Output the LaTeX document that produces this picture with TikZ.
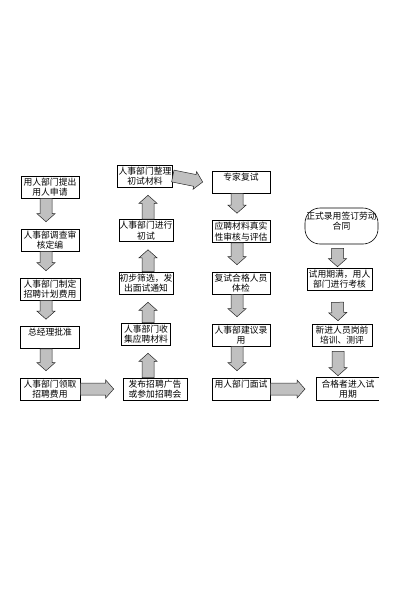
\documentclass[tikz,border=0pt]{standalone}
\usepackage{fontspec}
\newfontfamily\cjk{Noto Sans CJK SC}
\usetikzlibrary{calc}

\definecolor{arrowgray}{RGB}{192,192,192}

\tikzset{
  stepbox/.style={draw, line width=0.6pt, fill=white, align=center, inner sep=0.5pt,
    minimum height=22pt, font=\cjk\fontsize{8.8}{10.5}\selectfont},
  blk/.style={fill=arrowgray, draw=black!85, line width=0.5pt, line join=miter},
}

% block arrow between two points
\newcommand{\blkarrow}[2]{%
  \coordinate (ba) at (#1);
  \coordinate (bb) at (#2);
  \coordinate (bh) at ($(bb)!8pt!(ba)$);
  \draw[blk] ($(ba)!6pt!90:(bb)$) -- ($(bh)!6pt!90:(bb)$) -- ($(bh)!9pt!90:(bb)$)
    -- (bb) -- ($(bh)!9pt!-90:(bb)$) -- ($(bh)!6pt!-90:(bb)$) -- ($(ba)!6pt!-90:(bb)$) -- cycle;
}

\begin{document}
\begin{tikzpicture}[x=1pt, y=-1pt]
  \useasboundingbox (0,0) rectangle (400,600);

  % column 1
  \node[stepbox, minimum width=58pt] (b1) at (50,187)   {用人部门提出\\用人申请};
  \node[stepbox, minimum width=58pt] (b2) at (50,240)   {人事部调查审\\核定编};
  \node[stepbox, minimum width=60pt] (b3) at (50,289)   {人事部门制定\\招聘计划费用};
  \node[stepbox, minimum width=59pt] (b4) at (50,337.5) {总经理批准\\~};
  \node[stepbox, minimum width=60pt] (b5) at (50,389)   {人事部门领取\\招聘费用};

  % column 2
  \node[stepbox, minimum width=55pt] (c1) at (145,176)   {人事部门整理\\初试材料};
  \node[stepbox, minimum width=53pt] (c2) at (146,230.5) {人事部门进行\\初试};
  \node[stepbox, minimum width=54pt] (c3) at (146,283)   {初步筛选，发\\出面试通知};
  \node[stepbox, minimum width=49pt] (c4) at (146,334)   {人事部门收\\集应聘材料};
  \node[stepbox, minimum width=64pt] (c5) at (155,389)   {发布招聘广告\\或参加招聘会};

  % column 3
  \node[stepbox, minimum width=58pt] (d1) at (241,182)   {专家复试\\~};
  \node[stepbox, minimum width=58pt] (d2) at (241,231.5) {应聘材料真实\\性审核与评估};
  \node[stepbox, minimum width=58pt] (d3) at (241,283)   {复试合格人员\\体检};
  \node[stepbox, minimum width=58pt] (d4) at (241,335)   {人事部建议录\\用};
  \node[stepbox, minimum width=58pt] (d5) at (241,389)   {用人部门面试\\~};

  % column 4
  \node[stepbox, rounded corners=15pt, minimum width=73pt, minimum height=36pt]
    (e0) at (341.5,226) {正式录用签订劳动\\合同\\~};
  \node[stepbox, minimum width=65pt] (e1) at (339.5,279) {试用期满，用人\\部门进行考核};
  \node[stepbox, minimum width=60pt] (e2) at (342,335)   {新进人员岗前\\培训、测评};
  \node[stepbox, draw=none, minimum width=62pt] (e3) at (348,389) {合格者进入试\\用期};
  \draw[line width=0.6pt] (e3.north east) -- (e3.north west) -- (e3.south west) -- (e3.south east);
  \coordinate (d5end) at (305,389);

  % arrows down, column 1
  \blkarrow{$(b1.south)+(-4,0)$}{$(b2.north)+(-4,-7)$}
  \blkarrow{$(b2.south)+(-4,0)$}{$(b3.north)+(-4,-7)$}
  \blkarrow{$(b3.south)+(-4,0)$}{$(b4.north)+(-4,-7)$}
  \blkarrow{$(b4.south)+(-4,0)$}{$(b5.north)+(-4,-7)$}
  \blkarrow{b5.east}{$(c5.west)+(-9,0)$}

  % arrows up, column 2
  \blkarrow{$(c5.north)+(-7,0)$}{$(c4.south)+(2,8)$}
  \blkarrow{$(c4.north)+(2,0)$}{$(c3.south)+(2,8)$}
  \blkarrow{$(c3.north)+(2,0)$}{$(c2.south)+(2,8)$}
  \blkarrow{$(c2.north)+(2,0)$}{$(c1.south)+(3,8)$}
  \blkarrow{c1.east}{$(d1.west)+(-9,0)$}

  % arrows down, column 3
  \blkarrow{$(d1.south)+(-4,0)$}{$(d2.north)+(-4,-7)$}
  \blkarrow{$(d2.south)+(-4,0)$}{$(d3.north)+(-4,-7)$}
  \blkarrow{$(d3.south)+(-4,0)$}{$(d4.north)+(-4,-7)$}
  \blkarrow{$(d4.south)+(-4,0)$}{$(d5.north)+(-4,-7)$}
  \blkarrow{d5.east}{d5end}

  % arrows down, column 4
  \blkarrow{$(e0.south)+(-4,4)$}{$(e1.north)+(-2,-1)$}
  \blkarrow{$(e1.south)+(-2,12)$}{$(e2.north)+(-4,-3)$}
  \blkarrow{$(e2.south)+(-4,5)$}{$(e3.north)+(-10,-2)$}
\end{tikzpicture}
\end{document}
